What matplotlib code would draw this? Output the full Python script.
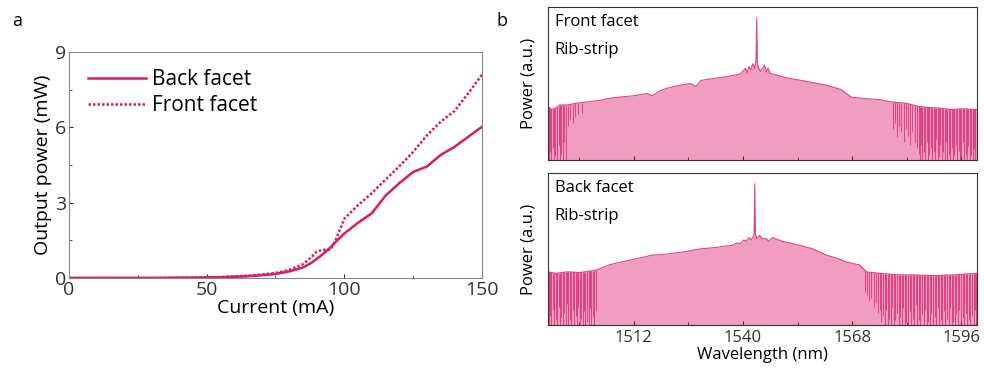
import numpy as np
import matplotlib
matplotlib.use("Agg")
import matplotlib.pyplot as plt
from matplotlib.ticker import MultipleLocator

plt.rcParams['font.family'] = ['Open Sans', 'DejaVu Sans']

LINE = '#d81b6a'
FILL = '#f09dbf'

# ---- panel a: L-I curves ----
current = [0, 10, 20, 30, 40, 50, 55, 60, 65, 70, 75, 80, 85, 88, 90, 92, 95, 97,
           100, 105, 110, 115, 120, 125, 130, 135, 140, 145, 150]
back = [0, 0, 0, 0, 0.01, 0.02, 0.03, 0.05, 0.07, 0.11, 0.16, 0.26, 0.42, 0.6, 0.76,
        0.93, 1.22, 1.45, 1.77, 2.2, 2.58, 3.28, 3.78, 4.22, 4.44, 4.9, 5.22, 5.62, 6.02]
front = [0, 0, 0, 0, 0.01, 0.02, 0.04, 0.06, 0.09, 0.14, 0.2, 0.32, 0.55, 0.82, 1.05,
         1.12, 1.13, 1.55, 2.36, 2.9, 3.38, 3.92, 4.45, 5.02, 5.68, 6.22, 6.65, 7.35, 8.1]

# ---- panel b: spectra (normalised envelope) ----
wl_top = [1490, 1491, 1492, 1493, 1495, 1497, 1500, 1503.4, 1505, 1507.7, 1510, 1512,
          1515.4, 1516.7, 1518.5, 1520.6, 1524, 1526.6, 1527.9, 1529.2, 1533, 1536,
          1537.8, 1539, 1540, 1540.6, 1541, 1541.5, 1542, 1542.5, 1543.0, 1543.35,
          1543.5, 1543.65, 1544.0, 1544.5, 1545, 1545.5, 1546, 1546.4, 1547, 1548,
          1550.6, 1555, 1559.2, 1562, 1565.2, 1567.8, 1572.1, 1575, 1578.1, 1580,
          1582, 1585, 1587, 1590, 1593.5, 1596, 1600]
env_top = [0.35, 0.33, 0.34, 0.36, 0.36, 0.37, 0.38, 0.39, 0.40, 0.41, 0.415, 0.42,
           0.435, 0.42, 0.45, 0.47, 0.49, 0.50, 0.48, 0.52, 0.535, 0.545,
           0.555, 0.56, 0.58, 0.6, 0.57, 0.61, 0.59, 0.63, 0.6, 0.66,
           0.93, 0.64, 0.6, 0.58, 0.6, 0.62, 0.575, 0.6, 0.565, 0.56,
           0.54, 0.52, 0.50, 0.485, 0.46, 0.41, 0.40, 0.395, 0.38, 0.375,
           0.37, 0.35, 0.345, 0.34, 0.33, 0.335, 0.33]

wl_bot = [1490, 1492, 1495, 1498, 1502.2, 1505.6, 1508, 1511.6, 1516.8, 1520, 1524.5,
          1528.8, 1533, 1537.3, 1538.5, 1539.3, 1540.2, 1540.8, 1541.5, 1542.2,
          1542.85, 1543.0, 1543.15, 1543.6, 1544.2, 1545, 1545.9, 1546.6, 1547.5,
          1550.2, 1554.5, 1558, 1561.3, 1564, 1566.5, 1569.9, 1571.6, 1575, 1580.2,
          1584, 1588.8, 1594, 1600]
env_bot = [0.35, 0.34, 0.35, 0.345, 0.36, 0.395, 0.41, 0.43, 0.46, 0.465, 0.48,
           0.50, 0.51, 0.525, 0.54, 0.535, 0.56, 0.55, 0.575, 0.56,
           0.6, 0.93, 0.6, 0.57, 0.59, 0.565, 0.57, 0.55, 0.575,
           0.55, 0.525, 0.50, 0.46, 0.44, 0.415, 0.395, 0.35, 0.34, 0.33,
           0.33, 0.325, 0.33, 0.34]

# noise dips (wavelength, lowest level)
dips_top_wl = [1490.2, 1490.5, 1490.9, 1491.2, 1491.6, 1491.9, 1492.3, 1492.7,
               1493.0, 1493.4, 1493.8, 1494.1, 1494.5,
               1495.1, 1495.7, 1496.3, 1497.0, 1497.8, 1498.6,
               1578.4, 1578.9, 1579.5, 1580.1, 1580.6, 1581.2, 1581.8, 1582.3,
               1582.9, 1583.4, 1584.0, 1584.5,
               1585.0, 1585.3, 1585.7, 1586.0, 1586.4, 1586.7, 1587.1, 1587.4,
               1587.8, 1588.1, 1588.5, 1588.9, 1589.2, 1589.6, 1589.9, 1590.3,
               1590.6, 1591.0, 1591.4, 1591.7, 1592.1, 1592.4, 1592.8, 1593.1,
               1593.5, 1593.9, 1594.2, 1594.6, 1594.9, 1595.3, 1595.7, 1596.0,
               1596.4, 1596.7, 1597.1, 1597.5, 1597.8, 1598.2, 1598.5, 1598.9,
               1599.3, 1599.6]
dips_top_lo = [0.0, 0.05, 0.0, 0.08, 0.0, 0.03, 0.0, 0.1,
               0.0, 0.04, 0.0, 0.12, 0.0,
               0.22, 0.26, 0.24, 0.28, 0.3, 0.31,
               0.2, 0.24, 0.15, 0.22, 0.18, 0.12, 0.2, 0.16,
               0.1, 0.18, 0.12, 0.08,
               0.04, 0.0, 0.1, 0.0, 0.05, 0.0, 0.12, 0.0,
               0.03, 0.08, 0.0, 0.06, 0.0, 0.14, 0.0, 0.02,
               0.1, 0.0, 0.05, 0.0, 0.12, 0.0, 0.04, 0.0,
               0.08, 0.0, 0.03, 0.1, 0.0, 0.06, 0.0, 0.02,
               0.12, 0.0, 0.04, 0.0, 0.09, 0.0, 0.03, 0.0,
               0.07, 0.0]

dips_bot_wl = [1490.2, 1490.5, 1490.9, 1491.2, 1491.6, 1492.0, 1492.3, 1492.7,
               1493.0, 1493.4, 1493.8, 1494.1, 1494.5, 1494.9, 1495.2, 1495.6,
               1496.0, 1496.3, 1496.7, 1497.1, 1497.4, 1497.8, 1498.2, 1498.5,
               1498.9, 1499.3, 1499.6, 1500.0, 1500.4, 1500.7, 1501.1, 1501.5,
               1501.9, 1502.3,
               1571.3, 1571.8, 1572.4, 1572.9, 1573.5, 1574.0, 1574.6, 1575.1,
               1575.5, 1575.9, 1576.3, 1576.7, 1577.1, 1577.5, 1577.9, 1578.3,
               1578.7, 1579.1, 1579.5, 1579.9, 1580.3, 1580.7, 1581.1, 1581.5,
               1581.9, 1582.3, 1582.7, 1583.1, 1583.5, 1583.9, 1584.3, 1584.7,
               1585.1, 1585.5, 1585.9, 1586.3, 1586.7, 1587.1, 1587.5, 1587.9,
               1588.3, 1588.7, 1589.1, 1589.5, 1589.9, 1590.3, 1590.7, 1591.1,
               1591.5, 1591.9, 1592.3, 1592.7, 1593.1, 1593.5, 1593.9, 1594.3,
               1594.7, 1595.1, 1595.5, 1595.9, 1596.3, 1596.7, 1597.1, 1597.5,
               1597.9, 1598.3, 1598.7, 1599.1, 1599.5, 1599.8]
dips_bot_lo = [0.0, 0.06, 0.0, 0.1, 0.0, 0.04, 0.0, 0.12,
               0.0, 0.05, 0.0, 0.08, 0.0, 0.14, 0.0, 0.03,
               0.0, 0.1, 0.0, 0.06, 0.0, 0.12, 0.0, 0.04,
               0.0, 0.09, 0.0, 0.02, 0.0, 0.11, 0.0, 0.05,
               0.0, 0.1,
               0.22, 0.2, 0.16, 0.18, 0.12, 0.15, 0.08, 0.1,
               0.02, 0.06, 0.0, 0.1, 0.0, 0.04, 0.0, 0.12,
               0.0, 0.03, 0.08, 0.0, 0.05, 0.0, 0.11, 0.0,
               0.02, 0.0, 0.09, 0.0, 0.04, 0.0, 0.13, 0.0,
               0.03, 0.0, 0.07, 0.0, 0.1, 0.0, 0.02, 0.0,
               0.08, 0.0, 0.05, 0.0, 0.12, 0.0, 0.03, 0.0,
               0.09, 0.0, 0.04, 0.0, 0.11, 0.0, 0.02, 0.0,
               0.07, 0.0, 0.1, 0.0, 0.05, 0.0, 0.08, 0.0,
               0.03, 0.0, 0.06, 0.0, 0.1, 0.0]

wl_ticks = [1512, 1540, 1568, 1596]

fig = plt.figure(figsize=(9.84, 3.71), dpi=100)

# panel a
ax = fig.add_axes([0.0701, 0.2507, 0.4197, 0.6092])
ax.plot(current, back, color=LINE, lw=1.8, label='Back facet')
ax.plot(current, front, color=LINE, lw=1.8, ls=(0, (1, 0.8)), label='Front facet')
ax.set_xlim(0, 150)
ax.set_ylim(0, 9)
ax.set_xticks([0, 50, 100, 150])
ax.set_yticks([0, 3, 6, 9])
ax.xaxis.set_minor_locator(MultipleLocator(25))
ax.yaxis.set_minor_locator(MultipleLocator(1.5))
ax.tick_params(which='both', direction='in', labelsize=14, colors='#333333', pad=2)
ax.tick_params(which='major', length=3)
ax.tick_params(which='minor', length=2)
for s in ax.spines.values():
    s.set_color('#888888')
ax.set_xlabel('Current (mA)', fontsize=14, labelpad=0)
ax.set_ylabel('Output power (mW)', fontsize=14, labelpad=2)
ax.legend(loc='upper left', frameon=False, fontsize=15, handlelength=2.8,
          handletextpad=0.3, labelspacing=0.25, bbox_to_anchor=(0.01, 0.99),
          borderaxespad=0.3)
fig.text(0.012, 0.93, 'a', fontsize=13)
fig.text(0.505, 0.93, 'b', fontsize=13)


def spectrum(ax, wl, env, dwl, dlo, label):
    ax.fill_between(wl, 0, env, color=FILL, lw=0)
    top = np.interp(dwl, wl, env)
    ax.vlines(dwl, dlo, top, color=LINE, lw=0.7, alpha=0.7)
    ax.plot(wl, env, color=LINE, lw=0.8, alpha=0.8)
    ax.set_xlim(1490, 1600)
    ax.set_ylim(0, 1)
    ax.set_yticks([])
    ax.set_xticks(wl_ticks)
    ax.xaxis.set_minor_locator(MultipleLocator(14))
    ax.tick_params(which='both', direction='in', labelsize=12, colors='#333333')
    ax.tick_params(which='major', length=3)
    ax.tick_params(which='minor', length=2)
    for s in ax.spines.values():
        s.set_color('#333333')
    ax.set_ylabel('Power (a.u.)', fontsize=12, labelpad=8)
    ax.text(0.016, 0.90, label, transform=ax.transAxes, fontsize=12, va='center')
    ax.text(0.016, 0.72, 'Rib-strip', transform=ax.transAxes, fontsize=12, va='center')


ax1 = fig.add_axes([0.5569, 0.5687, 0.436, 0.4124])
spectrum(ax1, wl_top, env_top, dips_top_wl, dips_top_lo, 'Front facet')
ax1.set_xticklabels([])

ax2 = fig.add_axes([0.5569, 0.124, 0.436, 0.4097])
spectrum(ax2, wl_bot, env_bot, dips_bot_wl, dips_bot_lo, 'Back facet')
ax2.set_xlabel('Wavelength (nm)', fontsize=12, labelpad=1)

fig.savefig('out.png', dpi=100)
